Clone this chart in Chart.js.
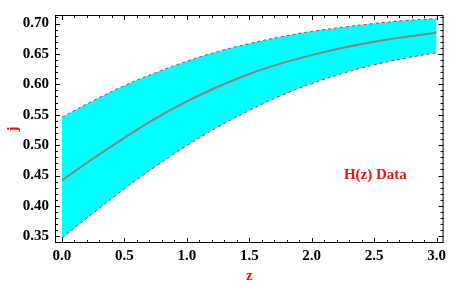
<!DOCTYPE html>
<html lang="en">
<head>
    <meta charset="UTF-8">
    <title>j(z) band - H(z) Data</title>
    <script src="https://cdn.jsdelivr.net/npm/chart.js@4.4.0/dist/chart.umd.min.js"></script>
    <style>
        body { margin: 0; background: white; }
        #wrap { width: 450px; height: 287px; }
    </style>
</head>
<body>
    <div id="wrap"><canvas id="chart" width="450" height="287"></canvas></div>
    <script>
        // Data
        const zValues = [0, 0.25, 0.5, 0.75, 1.0, 1.25, 1.5, 1.75, 2.0, 2.25, 2.5, 2.75, 3.0];
        const jUpper  = [0.546, 0.573, 0.598, 0.619, 0.638, 0.654, 0.667, 0.678, 0.687, 0.694, 0.700, 0.705, 0.708];
        const jMiddle = [0.442, 0.478, 0.512, 0.544, 0.572, 0.596, 0.617, 0.634, 0.648, 0.660, 0.670, 0.678, 0.685];
        const jLower  = [0.347, 0.388, 0.428, 0.465, 0.499, 0.530, 0.557, 0.581, 0.601, 0.618, 0.632, 0.643, 0.652];

        const xTicks = [0.0, 0.5, 1.0, 1.5, 2.0, 2.5, 3.0];
        const yTicks = [0.35, 0.40, 0.45, 0.50, 0.55, 0.60, 0.65, 0.70];
        const X_MINOR = 0.1;
        const Y_MINOR = 0.01;

        const labelFont = { family: 'Liberation Serif', size: 15, weight: 'bold' };

        function toPoints(ys) {
            return zValues.map((z, i) => ({ x: z, y: ys[i] }));
        }

        // frame, inward ticks on all four sides, and the text label
        const framePlugin = {
            id: 'frame',
            afterDraw(chart) {
                const ctx = chart.ctx;
                const a = chart.chartArea;
                const xs = chart.scales.x;
                const ys = chart.scales.y;
                ctx.save();
                ctx.strokeStyle = 'black';
                ctx.lineWidth = 1;
                ctx.strokeRect(a.left + 0.5, a.top + 0.5, a.right - a.left - 1, a.bottom - a.top - 1);

                ctx.beginPath();
                // x ticks
                for (let v = 0; v <= 3.0001; v += X_MINOR) {
                    const major = Math.abs(v / 0.5 - Math.round(v / 0.5)) < 1e-6;
                    const len = major ? 5 : 3;
                    const px = Math.round(xs.getPixelForValue(v)) + 0.5;
                    ctx.moveTo(px, a.bottom); ctx.lineTo(px, a.bottom - len);
                    ctx.moveTo(px, a.top); ctx.lineTo(px, a.top + len);
                }
                // y ticks
                for (let v = 0.34; v <= 0.7101; v += Y_MINOR) {
                    const major = Math.abs(v / 0.05 - Math.round(v / 0.05)) < 1e-6;
                    const len = major ? 5 : 3;
                    const py = Math.round(ys.getPixelForValue(v)) + 0.5;
                    ctx.moveTo(a.left, py); ctx.lineTo(a.left + len, py);
                    ctx.moveTo(a.right, py); ctx.lineTo(a.right - len, py);
                }
                ctx.stroke();

                ctx.fillStyle = '#ee1111';
                ctx.font = 'bold 15px "Liberation Serif"';
                ctx.textAlign = 'center';
                ctx.textBaseline = 'middle';
                ctx.fillText('H(z) Data', xs.getPixelForValue(2.51), ys.getPixelForValue(0.450));
                ctx.restore();
            }
        };

        new Chart(document.getElementById('chart'), {
            type: 'line',
            data: {
                datasets: [
                    {
                        label: 'upper',
                        data: toPoints(jUpper),
                        borderColor: '#ff2020',
                        borderWidth: 1,
                        borderDash: [3, 3],
                        backgroundColor: '#00ffff',
                        fill: 1,
                        pointRadius: 0,
                        tension: 0.4
                    },
                    {
                        label: 'lower',
                        data: toPoints(jLower),
                        borderColor: '#ff2020',
                        borderWidth: 1,
                        borderDash: [3, 3],
                        fill: false,
                        pointRadius: 0,
                        tension: 0.4
                    },
                    {
                        label: 'middle',
                        data: toPoints(jMiddle),
                        borderColor: '#848484',
                        borderWidth: 2,
                        fill: false,
                        pointRadius: 0,
                        tension: 0.4
                    }
                ]
            },
            options: {
                responsive: false,
                animation: false,
                layout: { padding: { top: 2, right: 4, left: 0, bottom: 0 } },
                plugins: {
                    legend: { display: false },
                    tooltip: { enabled: false },
                    filler: { drawTime: 'beforeDatasetsDraw' }
                },
                scales: {
                    x: {
                        type: 'linear',
                        min: -0.056,
                        max: 3.056,
                        grid: { display: false, drawTicks: false },
                        border: { display: false },
                        afterBuildTicks: s => { s.ticks = xTicks.map(v => ({ value: v })); },
                        afterFit: s => { s.height = 44; },
                        ticks: {
                            padding: 4,
                            color: 'black',
                            font: labelFont,
                            maxRotation: 0,
                            callback: v => v.toFixed(1)
                        },
                        title: {
                            display: true,
                            text: 'z',
                            color: '#ee1111',
                            font: { family: 'Liberation Serif', size: 15, weight: 'bold' },
                            padding: { top: 0, bottom: 2 }
                        }
                    },
                    y: {
                        type: 'linear',
                        min: 0.339,
                        max: 0.714,
                        grid: { display: false, drawTicks: false },
                        border: { display: false },
                        afterBuildTicks: s => { s.ticks = yTicks.map(v => ({ value: v })); },
                        afterFit: s => { s.width = 55; },
                        ticks: {
                            padding: 6,
                            color: 'black',
                            font: labelFont,
                            callback: v => v.toFixed(2)
                        },
                        title: {
                            display: true,
                            text: 'j',
                            color: '#ee1111',
                            font: { family: 'Liberation Serif', size: 15, weight: 'bold' },
                            padding: { top: 4, bottom: 0 }
                        }
                    }
                }
            },
            plugins: [framePlugin]
        });
    </script>
</body>
</html>
